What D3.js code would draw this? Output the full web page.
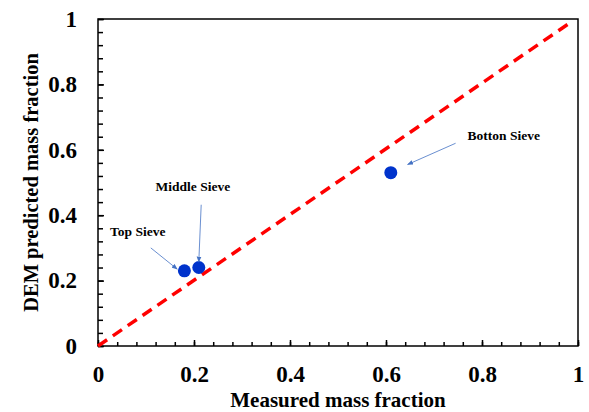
<!DOCTYPE html>
<html>
<head>
<meta charset="utf-8">
<script src="https://cdn.jsdelivr.net/npm/d3@7"></script>
<style>
  body { margin: 0; background: #fff; }
  svg text { font-family: "Liberation Serif", "Times New Roman", serif; font-weight: bold; fill: #000; }
</style>
</head>
<body>
<svg width="589" height="412"></svg>
<script>
// measured vs DEM predicted mass fractions
const sieveNames = ["Top Sieve", "Middle Sieve", "Botton Sieve"];
const measured = [0.18, 0.21, 0.61];
const predicted = [0.23, 0.24, 0.53];
// parity line endpoints
const parityX = [0, 0.98];
const parityY = [0, 0.985];
const majorTicks = [0, 0.2, 0.4, 0.6, 0.8, 1];
const tickLabels = ["0", "0.2", "0.4", "0.6", "0.8", "1"];

// label anchor (text pos) and arrow start, in data units
const labelPos = [[0.025, 0.335], [0.12, 0.475], [0.77, 0.63]];
const arrowFrom = [[0.11, 0.30], [0.215, 0.432], [0.745, 0.62]];
const arrowTo = [[0.165, 0.235], [0.21, 0.257], [0.645, 0.555]];

const margin = { top: 19, right: 11, bottom: 66, left: 98 };
const svg = d3.select("svg");
const width = 589 - margin.left - margin.right,
      height = 412 - margin.top - margin.bottom;

const x = d3.scaleLinear().domain([0, 1]).range([margin.left, margin.left + width]);
const y = d3.scaleLinear().domain([0, 1]).range([margin.top + height, margin.top]);

svg.append("defs").append("marker")
    .attr("id", "arrow")
    .attr("viewBox", "0 0 10 10")
    .attr("refX", 9).attr("refY", 5)
    .attr("markerWidth", 6).attr("markerHeight", 6)
    .attr("markerUnits", "userSpaceOnUse")
    .attr("orient", "auto")
    .append("path")
    .attr("d", "M0,1 L10,5 L0,9 Z")
    .attr("fill", "#4472C4");

const minor = d3.range(0, 1.0001, 0.04);

// x axis (ticks pointing inward)
svg.append("g")
    .attr("transform", `translate(0,${y(0)})`)
    .call(d3.axisBottom(x).tickValues(minor).tickSize(-4).tickFormat(""))
    .call(g => g.select(".domain").remove())
    .call(g => g.selectAll("line").attr("stroke", "#000").attr("stroke-width", 1.5));
svg.append("g")
    .attr("transform", `translate(0,${y(0)})`)
    .call(d3.axisBottom(x).tickValues(majorTicks).tickSize(-6).tickPadding(20)
        .tickFormat((d, i) => tickLabels[i]))
    .call(g => g.select(".domain").remove())
    .call(g => g.selectAll("line").attr("stroke", "#000").attr("stroke-width", 1.5))
    .call(g => g.selectAll("text").style("font-size", "23px"));

// y axis
svg.append("g")
    .attr("transform", `translate(${x(0)},0)`)
    .call(d3.axisLeft(y).tickValues(minor).tickSize(-5).tickFormat(""))
    .call(g => g.select(".domain").remove())
    .call(g => g.selectAll("line").attr("stroke", "#000").attr("stroke-width", 1.5));
svg.append("g")
    .attr("transform", `translate(${x(0)},0)`)
    .call(d3.axisLeft(y).tickValues(majorTicks).tickSize(-6).tickPadding(21)
        .tickFormat((d, i) => tickLabels[i]))
    .call(g => g.select(".domain").remove())
    .call(g => g.selectAll("line").attr("stroke", "#000").attr("stroke-width", 1.5))
    .call(g => g.selectAll("text").style("font-size", "23px"));

// frame
svg.append("rect")
    .attr("x", x(0)).attr("y", y(1))
    .attr("width", x(1) - x(0)).attr("height", y(0) - y(1))
    .attr("fill", "none").attr("stroke", "#000").attr("stroke-width", 1.5);

// parity line
svg.append("line")
    .attr("x1", x(parityX[0])).attr("y1", y(parityY[0]))
    .attr("x2", x(parityX[1])).attr("y2", y(parityY[1]))
    .attr("stroke", "#FF0000").attr("stroke-width", 3.5)
    .attr("stroke-dasharray", "11,7");

// points
svg.append("g").selectAll("circle")
    .data(measured)
    .enter().append("circle")
    .attr("cx", d => x(d))
    .attr("cy", (d, i) => y(predicted[i]))
    .attr("r", 6.5)
    .attr("fill", "#0033CC");

// annotation arrows and labels
svg.append("g").selectAll("line")
    .data(sieveNames)
    .enter().append("line")
    .attr("x1", (d, i) => x(arrowFrom[i][0])).attr("y1", (d, i) => y(arrowFrom[i][1]))
    .attr("x2", (d, i) => x(arrowTo[i][0])).attr("y2", (d, i) => y(arrowTo[i][1]))
    .attr("stroke", "#4472C4").attr("stroke-width", 0.8)
    .attr("marker-end", "url(#arrow)");

svg.append("g").selectAll("text")
    .data(sieveNames)
    .enter().append("text")
    .attr("x", (d, i) => x(labelPos[i][0]))
    .attr("y", (d, i) => y(labelPos[i][1]))
    .style("font-size", "13.5px")
    .text(d => d);

// axis titles
svg.append("text")
    .attr("x", x(0.5)).attr("y", 407)
    .attr("text-anchor", "middle")
    .style("font-size", "21px")
    .text("Measured mass fraction");

svg.append("text")
    .attr("transform", `translate(38,${y(0.5)}) rotate(-90)`)
    .attr("text-anchor", "middle")
    .style("font-size", "20.5px")
    .text("DEM predicted mass fraction");
</script>
</body>
</html>
